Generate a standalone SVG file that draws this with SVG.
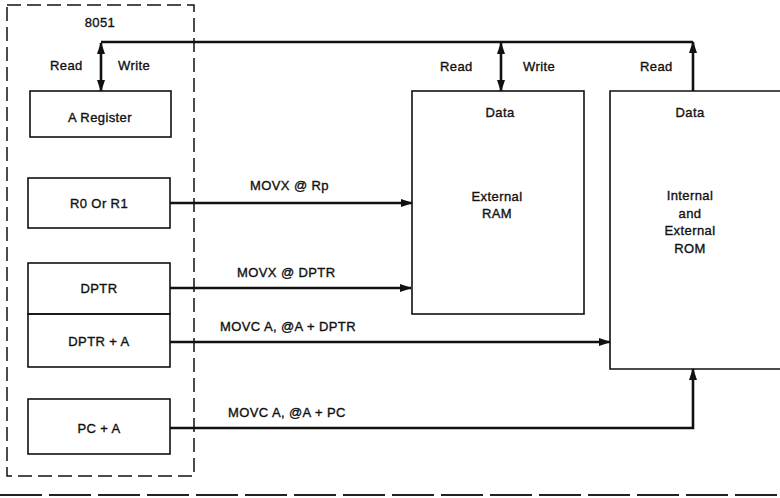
<svg xmlns="http://www.w3.org/2000/svg" width="780" height="498" viewBox="0 0 780 498">
<style>
text{font-family:"Liberation Sans",Arial,sans-serif;font-size:13px;fill:#111;stroke:#111;stroke-width:0.35;letter-spacing:0.4px}
.c{text-anchor:middle}
.box{fill:none;stroke:#111;stroke-width:1.6}
.ln{fill:none;stroke:#111;stroke-width:2.6}
.dash{fill:none;stroke:#111;stroke-width:1.5;stroke-dasharray:14 6}
</style>
<defs>
<marker id="ah" markerUnits="userSpaceOnUse" markerWidth="12" markerHeight="8" refX="11" refY="4" orient="auto-start-reverse">
<path d="M0,0 L12,4 L0,8 z" fill="#111"/>
</marker>
</defs>
<rect width="780" height="498" fill="#fff"/>
<g id="chip8051">
<rect class="dash" x="7" y="5" width="187" height="471"/>
<text class="c" x="100" y="27">8051</text>
</g>
<g id="areg">
<rect class="box" x="30" y="91" width="141" height="46"/>
<text class="c" x="100" y="122">A Register</text>
</g>
<g id="r0r1">
<rect class="box" x="28" y="178" width="142" height="50"/>
<text class="c" x="99" y="208">R0 Or R1</text>
</g>
<g id="dptr">
<rect class="box" x="28" y="263" width="142" height="51"/>
<text class="c" x="99" y="293">DPTR</text>
</g>
<g id="dptra">
<rect class="box" x="28" y="314" width="142" height="53"/>
<text class="c" x="99" y="346">DPTR + A</text>
</g>
<g id="pca">
<rect class="box" x="28" y="399" width="142" height="55"/>
<text class="c" x="99" y="433">PC + A</text>
</g>
<g id="ram">
<rect class="box" x="412" y="91" width="172" height="223"/>
<text class="c" x="500" y="117">Data</text>
<text class="c" x="497" y="201">External</text>
<text class="c" x="497" y="218">RAM</text>
</g>
<g id="rom">
<path class="box" d="M782,91 H610 V369 H782"/>
<text class="c" x="690" y="117">Data</text>
<text class="c" x="690" y="200">Internal</text>
<text class="c" x="690" y="218">and</text>
<text class="c" x="690" y="235">External</text>
<text class="c" x="690" y="253">ROM</text>
</g>
<g id="connectors">
<path class="ln" d="M101,42 H693"/>
<line class="ln" x1="101" y1="43" x2="101" y2="91" marker-start="url(#ah)" marker-end="url(#ah)"/>
<line class="ln" x1="501" y1="43" x2="501" y2="91" marker-start="url(#ah)" marker-end="url(#ah)"/>
<line class="ln" x1="693" y1="91" x2="693" y2="42" marker-end="url(#ah)"/>
<line class="ln" x1="170" y1="203" x2="412" y2="203" marker-end="url(#ah)"/>
<line class="ln" x1="170" y1="288" x2="411" y2="288" marker-end="url(#ah)"/>
<line class="ln" x1="170" y1="342" x2="610" y2="342" marker-end="url(#ah)"/>
<path class="ln" d="M170,428 H693 V369" marker-end="url(#ah)"/>
<text x="50" y="70">Read</text>
<text x="118" y="70">Write</text>
<text x="440" y="71">Read</text>
<text x="523" y="71">Write</text>
<text x="640" y="71">Read</text>
<text x="250" y="190">MOVX @ Rp</text>
<text x="237" y="277">MOVX @ DPTR</text>
<text x="220" y="331">MOVC A, @A + DPTR</text>
<text x="228" y="417">MOVC A, @A + PC</text>
</g>
<line x1="0" y1="495" x2="780" y2="495" stroke="#222" stroke-width="2" stroke-dasharray="42 7"/>
</svg>
